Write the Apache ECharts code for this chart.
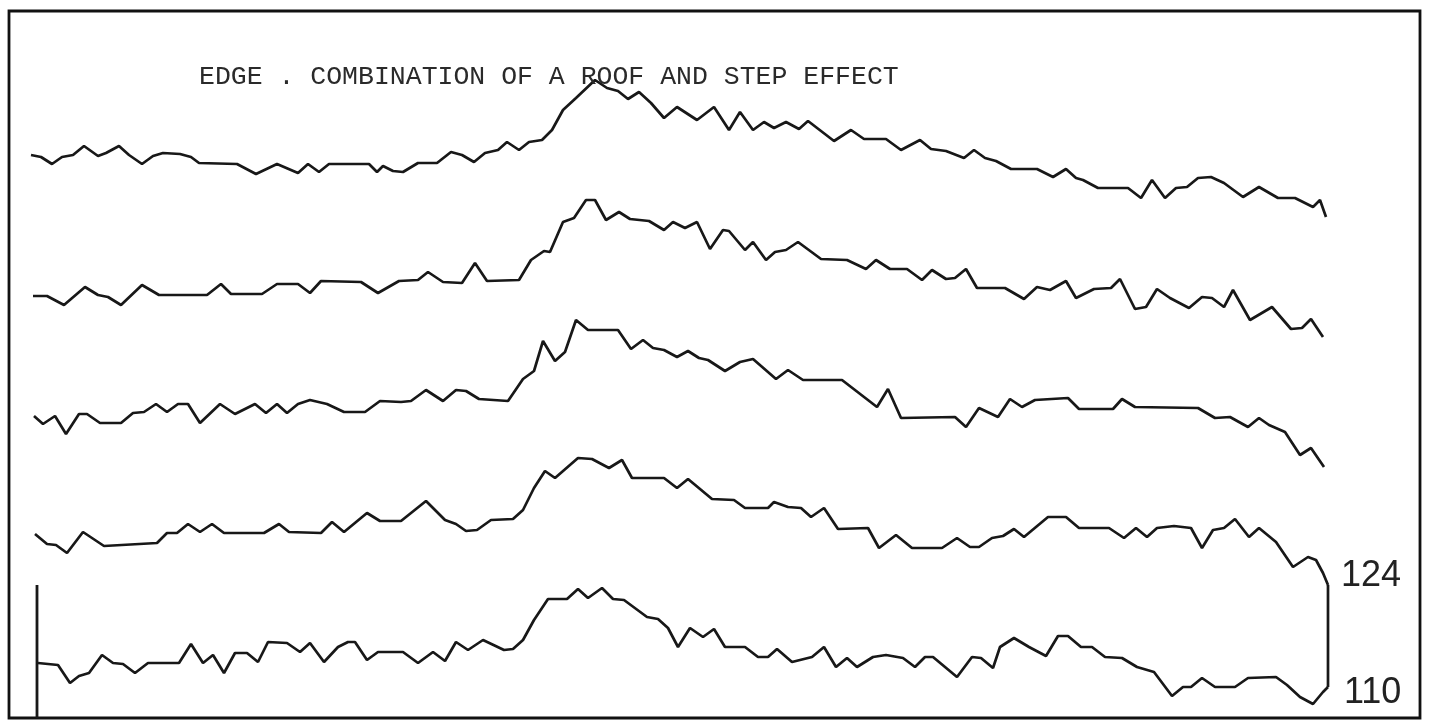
<!DOCTYPE html>
<html>
<head>
<meta charset="utf-8">
<script src="https://cdn.jsdelivr.net/npm/echarts@6/dist/echarts.min.js"></script>
<style>
  html, body { margin: 0; padding: 0; background: #fff; }
  #chart { width: 1430px; height: 727px; }
</style>
</head>
<body>
<div id="chart"></div>
<script>
// scan position (x) and trace height (y)
const trace1 = [[31,563],[41,561],[52,554],[62,561],[73,563],[84,572],[98,562],[106,565],[119,572],[129,563],[142,554],[153,562],[163,565],[180,564],[191,561],[199,555],[237,554],[256,544],[277,554],[298,545],[308,554],[319,546],[329,554],[369,554],[377,546],[383,552],[393,547],[403,546],[418,555],[437,555],[451,566],[462,563],[474,556],[485,565],[498,568],[507,576],[519,568],[529,576],[542,578],[552,588],[563,608],[576,620],[595,638],[607,630],[618,627],[628,619],[639,626],[651,615],[664,600],[677,611],[697,598],[714,611],[729,588],[740,606],[753,588],[764,596],[774,590],[786,596],[799,589],[808,597],[834,577],[851,588],[864,579],[886,579],[901,568],[920,578],[931,569],[946,567],[964,560],[974,568],[985,560],[996,557],[1011,549],[1037,549],[1053,541],[1066,549],[1076,540],[1083,538],[1098,530],[1128,530],[1141,520],[1152,538],[1165,520],[1176,530],[1187,531],[1198,540],[1211,541],[1224,535],[1243,521],[1259,531],[1278,520],[1295,520],[1313,511],[1320,518],[1326,501]]
const trace2 = [[33,422],[47,422],[64,413],[85,431],[98,423],[108,421],[121,413],[142,433],[159,423],[207,423],[221,434],[231,424],[262,424],[277,434],[298,434],[310,425],[321,437],[361,436],[378,425],[399,437],[418,438],[428,446],[443,436],[462,435],[475,455],[487,437],[519,438],[531,458],[544,467],[550,466],[563,496],[574,500],[586,518],[595,518],[606,498],[619,506],[630,499],[649,497],[664,488],[673,496],[685,490],[697,496],[710,469],[723,488],[729,487],[745,468],[753,476],[766,458],[775,466],[786,468],[798,476],[821,459],[847,458],[866,449],[876,458],[890,449],[907,449],[922,438],[932,448],[946,439],[955,440],[966,449],[977,430],[1005,430],[1024,419],[1037,431],[1050,428],[1066,437],[1076,420],[1094,429],[1111,430],[1120,439],[1135,409],[1146,411],[1157,429],[1170,420],[1189,410],[1202,421],[1212,420],[1224,411],[1233,428],[1250,398],[1272,411],[1291,389],[1302,390],[1311,399],[1323,381]]
const trace3 = [[34,302],[43,294],[55,302],[66,284],[79,304],[87,304],[100,295],[121,295],[133,305],[144,306],[156,314],[167,306],[178,314],[188,314],[200,295],[220,314],[235,304],[255,314],[266,305],[277,314],[287,305],[298,314],[310,318],[327,314],[344,306],[365,306],[380,317],[401,316],[411,317],[426,328],[443,317],[456,328],[466,327],[479,319],[508,317],[523,339],[534,347],[543,377],[555,357],[565,366],[576,398],[588,388],[618,388],[631,369],[643,378],[653,370],[664,368],[677,361],[688,367],[699,360],[708,358],[725,347],[740,356],[753,359],[776,339],[788,348],[803,338],[842,338],[877,311],[888,329],[901,300],[955,301],[966,291],[979,310],[998,301],[1010,319],[1022,311],[1035,318],[1068,320],[1079,309],[1113,309],[1122,319],[1135,311],[1198,310],[1215,300],[1230,301],[1248,291],[1259,300],[1269,293],[1285,286],[1300,263],[1311,270],[1324,251]]
const trace4 = [[35,184],[47,174],[56,173],[67,165],[83,186],[104,172],[157,175],[167,185],[177,185],[188,194],[200,186],[212,194],[224,185],[264,185],[279,194],[289,186],[321,185],[332,196],[344,186],[367,205],[380,197],[401,197],[426,217],[445,198],[456,194],[466,187],[477,188],[491,198],[513,199],[523,208],[534,230],[545,247],[555,240],[578,260],[592,259],[609,250],[622,258],[632,240],[664,240],[677,230],[688,239],[712,219],[734,218],[745,210],[768,210],[774,216],[788,211],[801,210],[811,201],[824,210],[838,189],[868,190],[879,170],[896,183],[912,170],[942,170],[957,180],[970,171],[979,171],[992,180],[1003,182],[1014,189],[1024,181],[1048,201],[1066,201],[1079,190],[1109,190],[1124,180],[1136,190],[1147,181],[1157,190],[1174,192],[1191,190],[1202,170],[1213,188],[1224,190],[1235,199],[1249,181],[1259,190],[1276,176],[1293,151],[1308,161],[1316,158],[1323,145],[1328,133]]
const trace5 = [[38,55],[58,53],[70,35],[79,42],[89,45],[102,63],[113,55],[123,54],[135,45],[148,55],[179,55],[191,74],[203,55],[213,63],[224,45],[235,65],[247,65],[258,56],[268,76],[287,75],[300,66],[310,75],[324,56],[338,71],[348,76],[355,76],[367,58],[378,66],[403,66],[418,55],[433,66],[445,57],[456,76],[468,68],[483,78],[504,68],[513,69],[523,78],[534,98],[548,119],[567,119],[578,129],[588,120],[602,130],[613,119],[624,118],[647,101],[658,99],[668,90],[678,71],[690,90],[703,81],[714,89],[725,71],[745,71],[758,61],[768,61],[777,69],[792,56],[812,61],[824,71],[836,51],[847,60],[857,51],[873,61],[886,63],[903,60],[915,51],[925,61],[933,61],[957,41],[972,61],[981,60],[993,50],[1000,71],[1014,80],[1029,71],[1046,62],[1058,82],[1068,82],[1081,71],[1092,71],[1105,61],[1122,60],[1137,51],[1154,46],[1172,22],[1183,31],[1191,31],[1202,40],[1215,31],[1235,31],[1248,40],[1276,41],[1287,33],[1300,21],[1313,14],[1323,26],[1328,31]]
const traces = [trace1, trace2, trace3, trace4, trace5]
const endLabels = ['', '', '', '124', '110']
const scaleBar = [[37, 133], [37, 0]]
const titleText = 'EDGE . COMBINATION OF A ROOF AND STEP EFFECT'

const ink = '#181818'
let myChart = echarts.init(document.getElementById('chart'))

let series = traces.map((d, i) => ({
  type: 'line',
  data: d,
  showSymbol: false,
  lineStyle: { color: ink, width: 2.7 },
  endLabel: {
    show: endLabels[i] !== '',
    formatter: () => endLabels[i],
    color: '#222',
    fontFamily: 'Liberation Sans',
    fontSize: 36,
    offset: i === 3 ? [5, -9] : [8, 6]
  }
}))
// bracket joining the two labelled ends
series.push({
  type: 'line',
  data: [trace4[trace4.length - 1], trace5[trace5.length - 1]],
  showSymbol: false,
  lineStyle: { color: ink, width: 2.7 }
})
// vertical scale bar, lower left
series.push({
  type: 'line',
  data: scaleBar,
  showSymbol: false,
  lineStyle: { color: ink, width: 2.8 }
})

myChart.setOption({
  animation: false,
  backgroundColor: '#fff',
  title: {
    text: titleText,
    left: 194,
    top: 58,
    textStyle: {
      fontFamily: 'Liberation Mono',
      fontWeight: 'normal',
      fontSize: 26.5,
      color: '#2a2a2a'
    }
  },
  grid: {
    left: 9,
    right: 10,
    top: 11,
    bottom: 9,
    show: true,
    borderColor: '#111',
    borderWidth: 2.8
  },
  xAxis: { type: 'value', min: 9, max: 1420, show: false },
  yAxis: { type: 'value', min: 0, max: 707, show: false },
  series: series
})
</script>
</body>
</html>
